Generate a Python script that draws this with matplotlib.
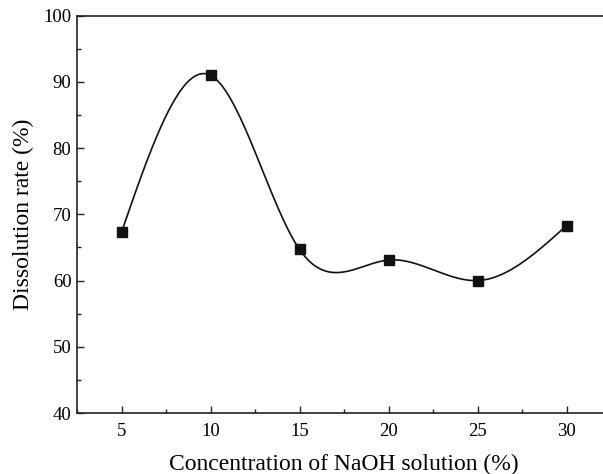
import numpy as np
import matplotlib
matplotlib.use("Agg")
import matplotlib.pyplot as plt
from matplotlib.ticker import MultipleLocator

# data
concentration = [5, 10, 15, 20, 25, 30]
dissolution = [67.3, 91.0, 64.7, 63.1, 60.0, 68.3]


def natural_spline(x, y, n=400):
    x = np.asarray(x, float)
    y = np.asarray(y, float)
    k = len(x)
    h = np.diff(x)
    A = np.zeros((k, k))
    b = np.zeros(k)
    A[0, 0] = A[-1, -1] = 1.0
    for i in range(1, k - 1):
        A[i, i - 1] = h[i - 1]
        A[i, i] = 2 * (h[i - 1] + h[i])
        A[i, i + 1] = h[i]
        b[i] = 6 * ((y[i + 1] - y[i]) / h[i] - (y[i] - y[i - 1]) / h[i - 1])
    m = np.linalg.solve(A, b)
    xs = np.linspace(x[0], x[-1], n)
    idx = np.clip(np.searchsorted(x, xs) - 1, 0, k - 2)
    x0, x1 = x[idx], x[idx + 1]
    hh = x1 - x0
    t0 = x1 - xs
    t1 = xs - x0
    ys = (m[idx] * t0**3 / (6 * hh) + m[idx + 1] * t1**3 / (6 * hh)
          + (y[idx] / hh - m[idx] * hh / 6) * t0
          + (y[idx + 1] / hh - m[idx + 1] * hh / 6) * t1)
    return xs, ys


plt.rcParams["font.family"] = ["Liberation Serif", "DejaVu Serif"]

fig = plt.figure(figsize=(6.03, 4.74), dpi=100)
ax = fig.add_axes([77 / 603, 61 / 474, 534 / 603, 397.3 / 474])

xs, ys = natural_spline(concentration, dissolution)
ax.plot(xs, ys, color="#111111", linewidth=1.2)
ax.plot(concentration, dissolution, linestyle="none", marker="s",
        markersize=7.5, color="#111111")

ax.set_xlim(2.5, 32.5)
ax.set_ylim(40, 100)
ax.xaxis.set_major_locator(MultipleLocator(5))
ax.xaxis.set_minor_locator(MultipleLocator(2.5))
ax.yaxis.set_major_locator(MultipleLocator(10))
ax.yaxis.set_minor_locator(MultipleLocator(5))
ax.tick_params(which="both", direction="in", labelsize=13.5, width=1.0,
               color="#222222")
ax.tick_params(which="major", length=5)
ax.tick_params(which="minor", length=3)
ax.tick_params(axis="x", pad=7)
ax.tick_params(axis="y", pad=4)
for s in ax.spines.values():
    s.set_linewidth(1.2)
    s.set_color("#222222")

ax.set_xlabel("Concentration of NaOH solution (%)", fontsize=17, labelpad=10)
ax.set_ylabel("Dissolution rate (%)", fontsize=17, labelpad=7)

fig.savefig("out.png", dpi=100)
